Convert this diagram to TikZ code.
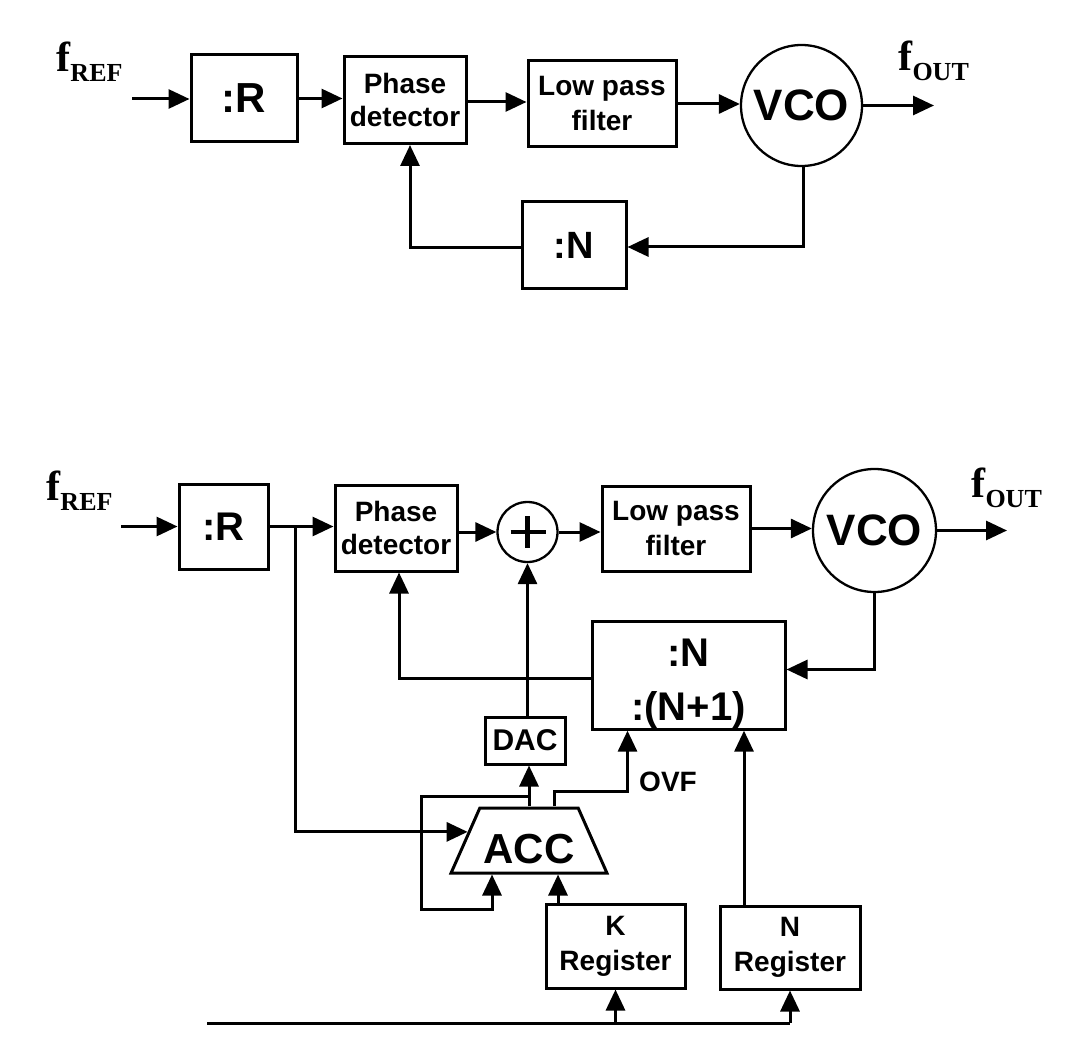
\documentclass[tikz,border=0pt]{standalone}
\usepackage{fontspec}
\setmainfont{Liberation Sans}
\newfontfamily\serifbf{Liberation Serif}
\usetikzlibrary{arrows.meta,shapes.geometric,calc}
\newcommand\fsz[2]{\fontsize{#1}{#2}\selectfont}
\begin{document}
\begin{tikzpicture}[x=1pt,y=-1pt,line width=3pt,
  arr/.style={-{Triangle[length=21pt,width=19pt]}},
  blk/.style={draw,rectangle,inner sep=0pt,align=center},
  circ/.style={draw,circle,inner sep=0pt,line width=2.3pt},
  flab/.style={inner sep=0pt,anchor=base west,font=\serifbf\bfseries\fsz{42}{42}},
  sumnode/.style={draw,circle,inner sep=0pt,line width=2.3pt,minimum size=60pt,
    path picture={\draw[line width=4.5pt]
      ([xshift=13pt]path picture bounding box.west) -- ([xshift=-12pt]path picture bounding box.east)
      ([yshift=-14pt]path picture bounding box.north) -- ([yshift=14pt]path picture bounding box.south);}},
]
\useasboundingbox (0,0) rectangle (1075,1056);

% ---------- top diagram ----------
\node[flab] (fref1) at (55,72) {f\raisebox{-10pt}{\fsz{26}{26}REF}};
\node[flab] (fout1) at (897,71) {f\raisebox{-10pt}{\fsz{26}{26}OUT}};
\node[blk,minimum width=106pt,minimum height=87pt,font=\bfseries\fsz{42}{42}] (R1) at (244,98.5) {:R};
\node[blk,minimum width=122pt,minimum height=87pt,font=\bfseries\fsz{28}{33}] (PD1) at (405,100) {Phase\\detector};
\node[blk,minimum width=148pt,minimum height=86pt,font=\bfseries\fsz{28}{35}] (LPF1) at (602,104) {Low pass\\filter};
\node[circ,minimum size=121pt,font=\bfseries\fsz{44}{44}] (VCO1) at (801.5,105.5) {VCO};
\node[blk,minimum width=104pt,minimum height=87pt,font=\bfseries\fsz{38}{38}] (N1) at (574,245) {:N};
\coordinate (in1) at (132,99);
\coordinate (out1) at (934,105.5);

\draw[arr] (in1) -- (in1 -| R1.west);
\draw[arr] (R1.east) -- (R1.east -| PD1.west);
\draw[arr] ([yshift=-2pt]PD1.east) -- ([yshift=-2pt]PD1.east -| LPF1.west);
\draw[arr] (LPF1.east) -- (LPF1.east -| VCO1.west);
\draw[arr] (VCO1.east) -- (out1);
\draw[arr] ([xshift=2pt]VCO1.south) |- ([yshift=-2pt]N1.east);
\draw[arr] ([yshift=-3pt]N1.west) -| ([xshift=5pt]PD1.south);

% ---------- bottom diagram ----------
\node[flab] (fref2) at (45,500) {f\raisebox{-10pt}{\fsz{26}{26}REF}};
\node[flab] (fout2) at (970,497) {f\raisebox{-10pt}{\fsz{26}{26}OUT}};
\node[blk,minimum width=89pt,minimum height=85pt,font=\bfseries\fsz{40}{40}] (R2) at (223.5,526.5) {:R};
\node[blk,minimum width=122pt,minimum height=86pt,font=\bfseries\fsz{28}{33}] (PD2) at (396,528) {Phase\\detector};
\node[sumnode] (sum) at (527.5,532) {};
\node[blk,minimum width=148pt,minimum height=85pt,font=\bfseries\fsz{28}{35}] (LPF2) at (676,528.5) {Low pass\\filter};
\node[circ,minimum size=123pt,font=\bfseries\fsz{44}{44}] (VCO2) at (874.5,530.5) {VCO};
\node[blk,minimum width=193pt,minimum height=105pt,font=\bfseries\fsz{40}{54}] (NN) at (688.5,675.5) {\rule{0pt}{45pt}:N\\:(N+1)};
\node[blk,minimum width=80pt,minimum height=47pt,font=\bfseries\fsz{30}{30}] (DAC) at (525,740.5) {DAC};
\node[draw,trapezium,trapezium left angle=59.4,trapezium right angle=59.4,trapezium stretches=true,
      minimum width=156pt,minimum height=65pt,inner sep=0pt,text height=45pt,text depth=0pt,
      font=\bfseries\fsz{42}{42}] (acc) at (529,840.5) {ACC};
\node[blk,minimum width=139pt,minimum height=84pt,font=\bfseries\fsz{28}{35}] (KR) at (615.5,946) {K\\Register};
\node[blk,minimum width=140pt,minimum height=83pt,font=\bfseries\fsz{28}{35}] (NR) at (790,947.5) {N\\Register};
\node[inner sep=0pt,font=\bfseries\fsz{28}{28}] (ovf) at (668,782) {OVF};
\coordinate (in2) at (121,526.5);
\coordinate (out2) at (1007,530.5);
\coordinate (jR) at (295,526.5);
\coordinate (lp) at (421,909);
\coordinate (bus) at (207,1023);

\draw[arr] (in2) -- (in2 -| R2.west);
\draw[arr] (R2.east) -- (R2.east -| PD2.west);
\draw[arr] (jR) |- (acc.172);
\draw[arr] (PD2.east |- sum.west) -- (sum.west);
\draw[arr] (sum.east) -- (sum.east -| LPF2.west);
\draw[arr] (LPF2.east) -- (LPF2.east -| VCO2.west);
\draw[arr] (VCO2.east) -- (out2);
\draw[arr] (VCO2.south) |- ([yshift=6pt]NN.east);
\draw[arr] ([yshift=-2.5pt]NN.west) -| ([xshift=3pt]PD2.south);
\draw[arr] (sum.south |- DAC.north) -- (sum.south);
\draw[arr] (acc.north) -- (acc.north |- DAC.south);
\draw[arr] ([yshift=10pt]acc.north) -| (lp) -| ([xshift=-37pt]acc.south);
\draw[arr] ([xshift=25pt]acc.north) -- ([xshift=25pt,yshift=15pt]acc.north) -| ([xshift=-61pt]NN.south);
\draw[arr] ([xshift=29pt]acc.south |- KR.north) -- ([xshift=29pt]acc.south);
\draw[arr] ([xshift=-46pt]NR.north) -- ([xshift=-46pt]NR.north |- NN.south);
\draw (bus) -- (bus -| NR.south);
\draw[arr] (bus -| KR.south) -- (KR.south);
\draw[arr] (bus -| NR.south) -- (NR.south);
\end{tikzpicture}
\end{document}
